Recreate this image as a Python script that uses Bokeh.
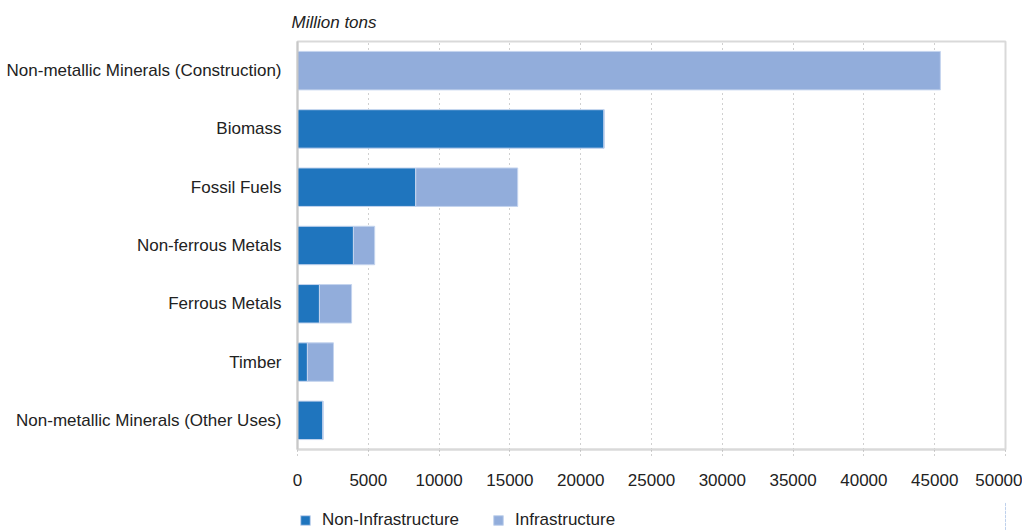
from bokeh.plotting import figure
from bokeh.layouts import column
from bokeh.models import Legend, LegendItem, FactorRange, ColumnDataSource, FixedTicker, Range1d
from bokeh.embed import file_html
from bokeh.resources import INLINE

categories = [
    "Non-metallic Minerals (Construction)",
    "Biomass",
    "Fossil Fuels",
    "Non-ferrous Metals",
    "Ferrous Metals",
    "Timber",
    "Non-metallic Minerals (Other Uses)",
]
non_infrastructure = [0, 21650, 8350, 3950, 1550, 700, 1800]
infrastructure = [45400, 0, 7200, 1500, 2270, 1840, 0]
x_ticks = [0, 5000, 10000, 15000, 20000, 25000, 30000, 35000, 40000, 45000, 50000]
series_names = ["Non-Infrastructure", "Infrastructure"]
colors = ["#1f75be", "#92addb"]

FONT = "Liberation Sans"
FS = "17px"
EDGE = "#c4d4ee"

source = ColumnDataSource(dict(cat=categories, non=non_infrastructure, inf=infrastructure))

p = figure(
    width=1022, height=502,
    y_range=FactorRange(factors=categories[::-1]),
    x_range=(0, 50000),
    output_backend="svg", toolbar_location=None,
    min_border_left=297, min_border_right=17, min_border_top=41, min_border_bottom=53,
)

p.hbar_stack(["non", "inf"], y="cat", height=0.66, color=colors,
             line_color=EDGE, line_width=1, source=source)

p.title.text = "Million tons"
p.title.text_font = FONT
p.title.text_font_style = "italic"
p.title.text_font_size = FS
p.title.text_color = "#222222"
p.title.align = "left"
p.title.offset = -6
p.title.standoff = 19

p.outline_line_color = "#d9d9d9"
p.outline_line_width = 2

p.xgrid.grid_line_color = "#a0a0a0"
p.xgrid.grid_line_dash = "1 4"
p.ygrid.grid_line_color = None

p.xaxis.ticker = FixedTicker(ticks=x_ticks)
p.xaxis.axis_line_color = "#d9d9d9"
p.xaxis.axis_line_width = 2
p.xaxis.major_tick_line_color = "#a0a0a0"
p.xaxis.major_tick_line_dash = "1 3"
p.xaxis.major_tick_out = 6
p.xaxis.major_tick_in = 0
p.xaxis.minor_tick_line_color = None
p.xaxis.major_label_standoff = 18
p.xaxis.major_label_text_font = FONT
p.xaxis.major_label_text_font_size = FS
p.xaxis.major_label_text_color = "#222222"

p.yaxis.axis_line_color = "#c8c8c8"
p.yaxis.axis_line_width = 2
p.yaxis.major_tick_line_color = None
p.yaxis.minor_tick_line_color = None
p.yaxis.major_label_standoff = 10
p.yaxis.major_label_text_font = FONT
p.yaxis.major_label_text_font_size = FS
p.yaxis.major_label_text_color = "#222222"

# legend strip below the chart (same data, bars kept outside its visible range)
p2 = figure(
    width=1022, height=28, x_range=Range1d(-2, -1),
    y_range=FactorRange(factors=categories[::-1]),
    output_backend="svg", toolbar_location=None,
    min_border_left=297, min_border_right=17, min_border_top=0, min_border_bottom=0,
)
p2.axis.visible = False
p2.grid.visible = False
p2.outline_line_color = None
p2.background_fill_color = "white"
leg_r = p2.hbar_stack(["non", "inf"], y="cat", height=0.66, color=colors,
                      line_color=EDGE, line_width=1, source=source)

legend = Legend(
    items=[LegendItem(label=n, renderers=[r]) for n, r in zip(series_names, leg_r)],
    orientation="horizontal", location=(2, 0),
    border_line_color=None, background_fill_alpha=0,
    glyph_width=12, glyph_height=12, label_text_font=FONT,
    label_text_font_size=FS, label_text_color="#222222",
    padding=0, margin=0, spacing=33, label_standoff=11,
)
p2.add_layout(legend, "center")

layout = column(p, p2, spacing=0)
open("out.html", "w").write(file_html(layout, INLINE))
